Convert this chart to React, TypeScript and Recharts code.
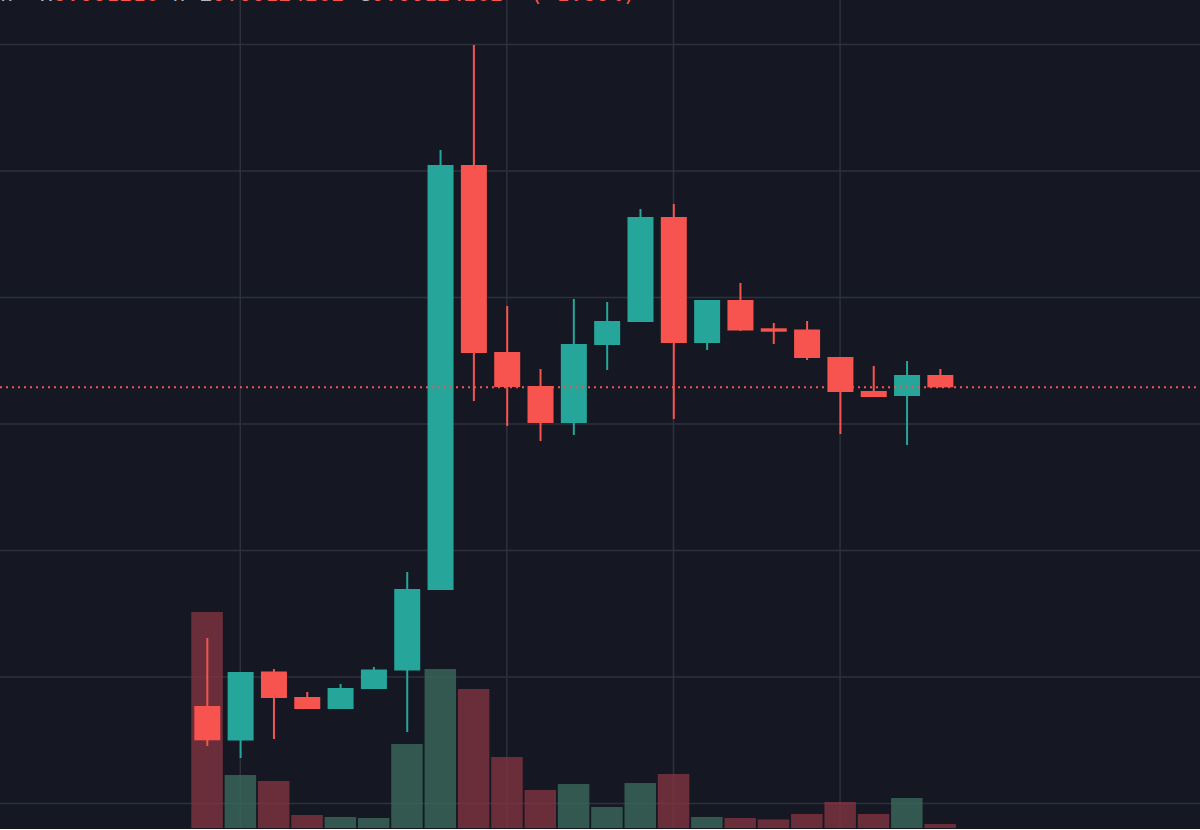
import { Bar, CartesianGrid, ComposedChart, ReferenceLine, XAxis, YAxis } from "recharts";

// Prices are in satoshi (1e-8), volume in an arbitrary unit.
const sessions = ["1","2","3","4","5","6","7","8","9","10","11","12","13","14","15","16","17","18","19","20","21","22","23"];
const opens = [75416,69961,80870,76839,74941,78103,81028,93755,160948,131383,126008,120158,132490,136126,152727,132806,139604,135130,134940,130593,125217,124427,127747];
const closes = [69993,80791,76681,74941,78262,81186,93913,160948,131225,125850,120158,132648,136284,152727,132806,139604,134782,134593,130435,125059,124269,127747,125800];
const highs = [86167,80791,81265,77629,78894,81582,96601,163319,179920,138656,128696,139763,139288,153992,154782,139604,142292,135968,136284,130593,129170,129960,128696];
const lows = [69092,67195,70198,74941,74941,78103,71305,93755,123636,119684,117312,118261,128537,136126,120791,131699,134703,132648,130118,118419,124269,116680,125800];
const volumes = [260.9,64,56.8,15.7,13.3,12.1,101.4,192,167.9,85.7,45.9,53.1,25.4,54.3,65.2,13.3,12.1,10.3,16.9,31.4,16.9,36.2,4.8];

const priceLevels = [60000,80000,100000,120000,140000,160000,180000];
const timeMarks = ["2","10","15","20"];
const priceDomain = [56128, 187034];
const volumeDomain = [0, 1000];
const lastPrice = closes[closes.length - 1];

const UP = "#26a69a";
const DOWN = "#f7544f";
const UP_VOL = "#3a695a";
const DOWN_VOL = "#7f3540";
const BG = "#151823";
const GRID = "#2e313c";

const rows = sessions.map((session, i) => ({
  session,
  open: opens[i],
  close: closes[i],
  high: highs[i],
  low: lows[i],
  volume: volumes[i],
}));

function Candle(props: any) {
  const { x, y, width, height, payload } = props;
  const { open, close, high, low } = payload;
  const color = close >= open ? UP : DOWN;
  const pxPerPrice = height / (high - low);
  const top = y + (high - Math.max(open, close)) * pxPerPrice;
  const bodyHeight = Math.abs(open - close) * pxPerPrice;
  const cx = x + width / 2;
  return (
    <g>
      <line x1={cx} x2={cx} y1={y} y2={y + height} stroke={color} strokeWidth={2} />
      <rect x={x} y={top} width={width} height={bodyHeight} fill={color} />
    </g>
  );
}

function VolumeBar(props: any) {
  const { x, y, width, height, payload } = props;
  return (
    <rect
      x={x}
      y={y}
      width={width}
      height={height}
      fill={payload.close >= payload.open ? UP_VOL : DOWN_VOL}
      fillOpacity={0.8}
    />
  );
}

const xPadding = { left: 190.3, right: 243.3 };

function Legend() {
  const grey = { color: "#b2b5be" };
  const red = { color: DOWN };
  return (
    <div
      style={{
        position: "absolute",
        left: 0,
        top: -17,
        fontFamily: "'DejaVu Sans Mono', monospace",
        fontSize: 22,
        lineHeight: "22px",
        whiteSpace: "pre",
      }}
    >
      <span style={grey}>{"n  H"}</span>
      <span style={red}>0.001216</span>
      <span style={grey}>{" n L"}</span>
      <span style={red}>0.00124262</span>
      <span style={grey}>{" C"}</span>
      <span style={red}>{"0.00124262  (-1.80%)"}</span>
    </div>
  );
}

export default function App() {
  return (
    <div
      style={{
        position: "fixed",
        left: 0,
        top: 0,
        width: 1200,
        height: 829,
        background: BG,
        overflow: "hidden",
      }}
    >
      <ComposedChart
        width={1200}
        height={829}
        data={rows}
        margin={{ top: 0, right: 0, bottom: 1, left: 0 }}
      >
        <XAxis xAxisId="candles" dataKey="session" hide padding={xPadding} ticks={timeMarks} interval={0} />
        <XAxis xAxisId="volume" dataKey="session" hide padding={xPadding} />
        <YAxis yAxisId="price" hide domain={priceDomain} ticks={priceLevels} allowDataOverflow />
        <YAxis yAxisId="vol" hide domain={volumeDomain} />
        <CartesianGrid xAxisId="candles" yAxisId="price" stroke={GRID} strokeWidth={1.5} syncWithTicks />
        <Bar
          xAxisId="volume"
          yAxisId="vol"
          dataKey="volume"
          barSize={31.5}
          shape={VolumeBar}
          isAnimationActive={false}
        />
        <Bar
          xAxisId="candles"
          yAxisId="price"
          dataKey={(d: any) => [d.low, d.high]}
          barSize={26}
          shape={Candle}
          isAnimationActive={false}
        />
        <ReferenceLine
          xAxisId="candles"
          yAxisId="price"
          y={lastPrice}
          stroke={DOWN}
          strokeWidth={2}
          strokeDasharray="2 4"
        />
      </ComposedChart>
      <Legend />
    </div>
  );
}
